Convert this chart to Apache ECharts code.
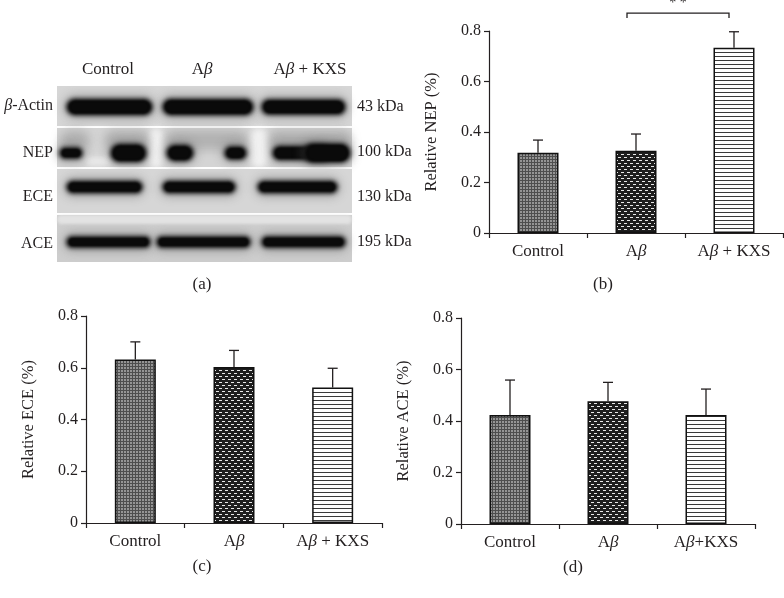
<!DOCTYPE html>
<html>
<head>
<meta charset="utf-8">
<script src="https://cdn.jsdelivr.net/npm/echarts@6/dist/echarts.min.js"></script>
<style>
  html, body { margin: 0; padding: 0; background: #fff; }
  #chart { width: 784px; height: 598px; }
</style>
</head>
<body>
<div id="chart"></div>
<script>
const FONT = "'Liberation Serif', 'DejaVu Serif', serif"
const INK = '#231f20'

// data
const categories = ['Control', 'Aβ', 'Aβ + KXS']
const categoriesAce = ['Control', 'Aβ', 'Aβ+KXS']
const nepMean = [0.318, 0.326, 0.734]
const nepErr = [0.050, 0.066, 0.063]
const eceMean = [0.632, 0.603, 0.524]
const eceErr = [0.068, 0.064, 0.074]
const aceMean = [0.423, 0.477, 0.423]
const aceErr = [0.136, 0.073, 0.101]
const yTicks = [0, 0.2, 0.4, 0.6, 0.8]
const sigPair = [1, 2]
const sigLevel = 0.871
const sigText = '* *'

// western blot (panel a) labels
const laneLabels = ['Control', 'Aβ', 'Aβ + KXS']
const rowLabels = ['β-Actin', 'NEP', 'ECE', 'ACE']
const kdaLabels = ['43 kDa', '100 kDa', '130 kDa', '195 kDa']

function tile(w, h, draw) {
  const c = document.createElement('canvas')
  c.width = w
  c.height = h
  draw(c.getContext('2d'))
  return c
}

const PATTERNS = [
  tile(3, 3, ctx => {
    ctx.fillStyle = '#959595'
    ctx.fillRect(0, 0, 3, 3)
    ctx.fillStyle = '#4e4e4e'
    ctx.fillRect(0, 0, 3, 1)
    ctx.fillRect(0, 0, 1, 3)
  }),
  tile(6, 6, ctx => {
    ctx.fillStyle = '#1e1e1e'
    ctx.fillRect(0, 0, 6, 6)
    ctx.fillStyle = '#e8e8e8'
    ctx.fillRect(0, 1, 3, 1)
    ctx.fillRect(3, 4, 3, 1)
  }),
  tile(4, 4, ctx => {
    ctx.fillStyle = '#ffffff'
    ctx.fillRect(0, 0, 4, 4)
    ctx.fillStyle = '#3a3a3a'
    ctx.fillRect(0, 0, 4, 1)
  }),
]

const rich = { i: { fontStyle: 'italic', fontFamily: FONT, fontSize: 17, color: INK } }
const betaFmt = s => s.replace('β', '{i|β}')

function gridAxes(idx, cats, name) {
  return {
    x: {
      type: 'category', gridIndex: idx, data: cats,
      axisLine: { lineStyle: { color: INK, width: 1.2 } },
      axisTick: { show: true, interval: 0, length: 5, lineStyle: { color: INK, width: 1.2 } },
      axisLabel: { interval: 0, fontFamily: FONT, fontSize: 17, color: INK, margin: 10, formatter: betaFmt, rich },
    },
    y: {
      type: 'value', gridIndex: idx, min: yTicks[0], max: yTicks[yTicks.length - 1], interval: 0.2,
      name, nameLocation: 'middle', nameGap: 49, nameRotate: 90,
      nameTextStyle: { fontFamily: FONT, fontSize: 16.5, color: INK },
      axisLine: { show: true, lineStyle: { color: INK, width: 1.2 } },
      axisTick: { show: true, length: 5, lineStyle: { color: INK, width: 1.2 } },
      splitLine: { show: false },
      axisLabel: {
        fontFamily: FONT, fontSize: 16, color: INK, margin: 8,
        formatter: v => (v === 0 ? '0' : v.toFixed(1)),
      },
    },
  }
}

function barSeries(idx, means) {
  return {
    type: 'bar', xAxisIndex: idx, yAxisIndex: idx, barWidth: 41,
    data: means.map((v, i) => ({
      value: v,
      itemStyle: { color: { image: PATTERNS[i], repeat: 'repeat' }, borderColor: '#111', borderWidth: 1.5 },
    })),
  }
}

function errSeries(idx, means, errs) {
  return {
    type: 'custom', xAxisIndex: idx, yAxisIndex: idx, z: 1,
    data: means.map((m, i) => [i, m, errs[i]]),
    renderItem(params, api) {
      const base = api.coord([api.value(0), api.value(1)])
      const top = api.coord([api.value(0), api.value(1) + api.value(2)])
      const st = { stroke: INK, lineWidth: 1.3 }
      return {
        type: 'group',
        children: [
          { type: 'line', shape: { x1: base[0], y1: base[1], x2: top[0], y2: top[1] }, style: st },
          { type: 'line', shape: { x1: top[0] - 5, y1: top[1], x2: top[0] + 5, y2: top[1] }, style: st },
        ],
      }
    },
  }
}

const sigSeries = {
  type: 'custom', xAxisIndex: 0, yAxisIndex: 0, clip: false,
  data: [[sigPair[0], sigPair[1], sigLevel]],
  renderItem(params, api) {
    const a = api.coord([api.value(0), api.value(2)])
    const b = api.coord([api.value(1), api.value(2)])
    const x1 = a[0] - 9, x2 = b[0] - 5, y = a[1]
    const st = { stroke: INK, lineWidth: 1.3, fill: null }
    return {
      type: 'group',
      children: [
        { type: 'polyline', shape: { points: [[x1, y + 5], [x1, y], [x2, y], [x2, y + 5]] }, style: st },
        { type: 'text', x: (x1 + x2) / 2, y: y - 3,
          style: { text: sigText, font: '14px ' + FONT, fill: INK, align: 'center', verticalAlign: 'bottom' } },
      ],
    }
  },
}

// ---- western blot graphics (photo, drawn as shapes) ----
const ROWS = [
  { y0: 86, y1: 126, bg: '#d6d6d6', bandY: 107, bands: [[66, 153, 17], [162, 254, 17], [261, 346, 16]] },
  { y0: 128, y1: 167, bg: '#d4d4d4', bandY: 153, bands: [[59, 83, 12], [110, 147, 19], [166, 194, 17], [224, 247, 14], [272, 330, 15], [303, 351, 20]] },
  { y0: 169, y1: 213, bg: '#d6d6d6', bandY: 187, bands: [[66, 143, 13], [162, 236, 13], [257, 338, 13]] },
  { y0: 215, y1: 262, bg: '#cdcdcd', bandY: 242, bands: [[66, 151, 12], [156, 251, 12], [261, 346, 12]] },
]
const ROW_LABEL_Y = [106, 153, 197, 244]
const KDA_Y = [107, 152, 197, 242]
const LANE_X = [108, 202, 310]

// shape pushed off-canvas so that only its blurred shadow is seen
const OFF = 3000
const blurred = (x, y, w, h, color, blur) => ({
  type: 'rect', shape: { x: x - OFF, y, width: w, height: h, r: Math.min(w, h) / 2 },
  style: { fill: color, shadowBlur: blur, shadowColor: color, shadowOffsetX: OFF },
})

const blot = []
ROWS.forEach((r, ri) => {
  blot.push({ type: 'rect', shape: { x: 57, y: r.y0, width: 295, height: r.y1 - r.y0 }, style: { fill: r.bg } })
  if (ri === 1) {
    blot.push(blurred(149, 128, 14, 40, 'rgba(248,248,248,0.9)', 6))
    blot.push(blurred(250, 128, 18, 40, 'rgba(248,248,248,0.9)', 6))
    blot.push(blurred(86, 157, 24, 9, 'rgba(240,240,240,0.85)', 5))
    ;[[60, 90], [104, 150], [165, 248], [268, 352]].forEach(([a, b]) => {
      blot.push(blurred(a, 130, b - a, 20, 'rgba(120,120,120,0.6)', 10))
    })
  }
  if (ri === 3) {
    blot.push(blurred(57, 215, 295, 9, 'rgba(232,232,232,0.9)', 3))
  }
  r.bands.forEach(([a, b, h]) => {
    blot.push(blurred(a - 3, r.bandY - h / 2 - 4, b - a + 6, h + 8, 'rgba(90,90,90,0.6)', 9))
    blot.push(blurred(a, r.bandY - h / 2, b - a, h, 'rgba(18,18,18,1)', 4))
    blot.push(blurred(a + 3, r.bandY - h / 2 + 2, b - a - 6, h - 4, 'rgba(10,10,10,1)', 2))
  })
})
const blotRich = { i: { font: 'italic 16px ' + FONT, fill: INK } }
const laneRich = { i: { font: 'italic 17px ' + FONT, fill: INK } }
laneLabels.forEach((t, i) => {
  blot.push({ type: 'text', x: LANE_X[i], y: 70,
    style: { text: betaFmt(t), font: '17px ' + FONT, fill: INK, align: 'center', verticalAlign: 'middle', rich: laneRich } })
})
rowLabels.forEach((t, i) => {
  blot.push({ type: 'text', x: 53, y: ROW_LABEL_Y[i],
    style: { text: betaFmt(t), font: '16px ' + FONT, fill: INK, align: 'right', verticalAlign: 'middle', rich: blotRich } })
})
kdaLabels.forEach((t, i) => {
  blot.push({ type: 'text', x: 357, y: KDA_Y[i],
    style: { text: t, font: '16px ' + FONT, fill: INK, align: 'left', verticalAlign: 'middle' } })
})
const panelTags = [['(a)', 202, 285], ['(b)', 603, 285], ['(c)', 202, 567], ['(d)', 573, 568]]
panelTags.forEach(([t, x, y]) => {
  blot.push({ type: 'text', x, y, style: { text: t, font: '17px ' + FONT, fill: INK, align: 'center', verticalAlign: 'middle' } })
})

const axB = gridAxes(0, categories, 'Relative NEP (%)')
const axC = gridAxes(1, categories, 'Relative ECE (%)')
const axD = gridAxes(2, categoriesAce, 'Relative ACE (%)')

const chart = echarts.init(document.getElementById('chart'))
chart.setOption({
  animation: false,
  backgroundColor: '#fff',
  grid: [
    { left: 489, top: 31, width: 294, height: 202 },
    { left: 86, top: 316, width: 296, height: 207 },
    { left: 461, top: 318, width: 294, height: 206 },
  ],
  xAxis: [axB.x, axC.x, axD.x],
  yAxis: [axB.y, axC.y, axD.y],
  series: [
    barSeries(0, nepMean), errSeries(0, nepMean, nepErr), sigSeries,
    barSeries(1, eceMean), errSeries(1, eceMean, eceErr),
    barSeries(2, aceMean), errSeries(2, aceMean, aceErr),
  ],
  graphic: blot,
})
</script>
</body>
</html>
